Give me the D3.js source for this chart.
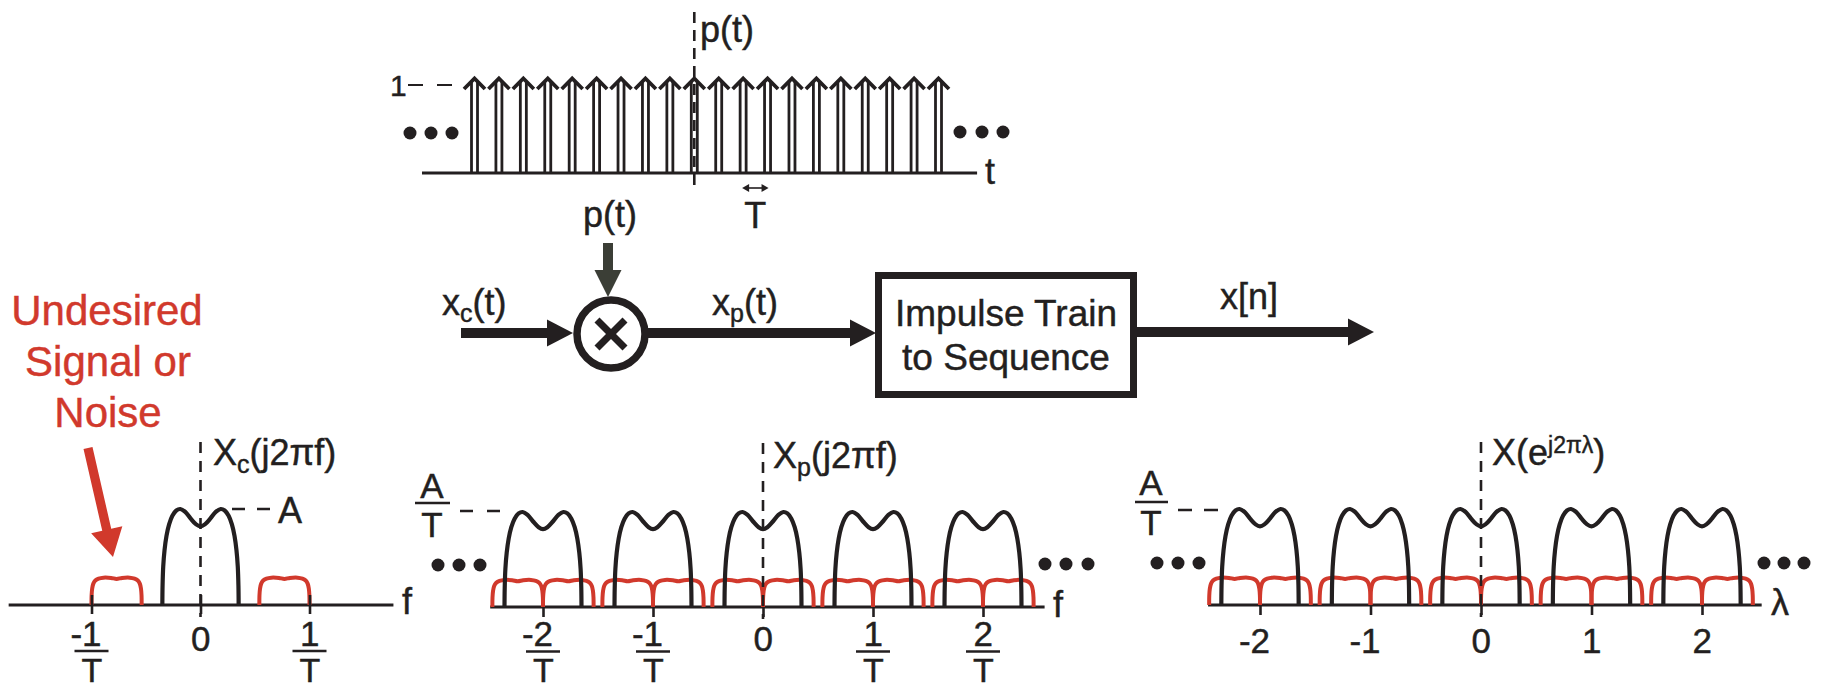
<!DOCTYPE html>
<html>
<head>
<meta charset="utf-8">
<title>Sampling, aliasing and the discrete-time spectrum</title>
<script src="https://cdn.jsdelivr.net/npm/d3@7/dist/d3.min.js"></script>
<style>
  html, body { margin: 0; padding: 0; background: #ffffff; }
  svg { display: block; }
  text { font-family: "Liberation Sans", Arial, Helvetica, sans-serif; }
</style>
</head>
<body>
<svg id="figure" width="1824" height="690"></svg>
<script>
// ---------------- data ----------------
// Impulse train p(t): sample index n and impulse weight
const impulseN      = [-9, -8, -7, -6, -5, -4, -3, -2, -1, 0, 1, 2, 3, 4, 5, 6, 7, 8, 9, 10];
const impulseWeight = [ 1,  1,  1,  1,  1,  1,  1,  1,  1, 1, 1, 1, 1, 1, 1, 1, 1, 1, 1,  1];

// Baseband spectrum |Xc(j2πf)|: f in units of 1/T, magnitude in units of A
const signalF   = [-0.350, -0.348, -0.342, -0.330, -0.312, -0.288, -0.258, -0.222, -0.185, -0.140, -0.090, -0.040, 0.000,
                    0.040,  0.090,  0.140,  0.185,  0.222,  0.258,  0.288,  0.312,  0.330,  0.342,  0.348,  0.350];
const signalMag = [0.00, 0.20, 0.40, 0.57, 0.72, 0.84, 0.93, 0.985, 1.00, 0.97, 0.90, 0.84, 0.82,
                   0.84, 0.90, 0.97, 1.00, 0.985, 0.93, 0.84, 0.72, 0.57, 0.40, 0.20, 0.00];

// Undesired signal / noise band for f > 0 (mirrored for f < 0)
const noiseF   = [0.540, 0.541, 0.546, 0.556, 0.575, 0.605, 0.650, 0.720, 0.770, 0.820, 0.890, 0.935, 0.965, 0.984, 0.994, 0.999, 1.000];
const noiseMag = [0.00, 0.10, 0.17, 0.22, 0.255, 0.275, 0.285, 0.282, 0.272, 0.282, 0.285, 0.275, 0.255, 0.22, 0.17, 0.10, 0.00];

// Spectral replicas drawn after sampling (centred on k/T, or k in λ)
const replicaK = [-2, -1, 0, 1, 2];

// Tick values and labels
const contTicks    = [-1, 0, 1];
const contTickNum  = ["-1", "0", "1"];
const contTickDen  = ["T", "", "T"];
const sampTicks    = [-2, -1, 0, 1, 2];
const sampTickNum  = ["-2", "-1", "0", "1", "2"];
const sampTickDen  = ["T", "T", "", "T", "T"];
const lambdaTicks  = [-2, -1, 0, 1, 2];
const lambdaLabels = ["-2", "-1", "0", "1", "2"];

// ---------------- styling ----------------
const INK = "#231f20";
const RED = "#d1392c";
const ARROW_GREY = "#3b3e36";
const FS = 36;

const svg = d3.select("#figure");

function txt(g, x, y, s, opts = {}) {
  const fill = opts.fill || INK;
  return g.append("text")
    .attr("x", x).attr("y", y)
    .attr("font-size", opts.size || FS)
    .attr("fill", fill)
    .attr("stroke", fill).attr("stroke-width", 0.45)
    .attr("text-anchor", opts.anchor || "start")
    .text(s);
}
function line(g, x1, y1, x2, y2, w, dash, color) {
  const l = g.append("line")
    .attr("x1", x1).attr("y1", y1).attr("x2", x2).attr("y2", y2)
    .attr("stroke", color || INK).attr("stroke-width", w);
  if (dash) l.attr("stroke-dasharray", dash);
  return l;
}
function dots(g, xs, y) {
  xs.forEach(x => g.append("circle").attr("cx", x).attr("cy", y).attr("r", 6.5).attr("fill", INK));
}

// ================= impulse train p(t) =================
const gTrain = svg.append("g");
const tScale = d3.scaleLinear().domain([-9, 10]).range([474.5, 938.5]);
const pScale = d3.scaleLinear().domain([0, 1]).range([173, 78]);

line(gTrain, tScale(-11.15), pScale(0), tScale(11.58), pScale(0), 3);
txt(gTrain, 985, 184, "t");

impulseN.forEach((n, i) => {
  const x = tScale(n), y0 = pScale(0), y1 = pScale(impulseWeight[i]);
  line(gTrain, x - 3, y0, x - 3, y1 + 4, 2.8);
  line(gTrain, x + 3, y0, x + 3, y1 + 4, 2.8);
  gTrain.append("path")
    .attr("d", `M${x - 10.5},${y1 + 11} L${x},${y1 + 0.5} L${x + 10.5},${y1 + 11}`)
    .attr("fill", "none").attr("stroke", INK).attr("stroke-width", 3.8)
    .attr("stroke-linejoin", "miter");
});
line(gTrain, tScale(0), 12, tScale(0), 186, 2.6, "11,7");
txt(gTrain, 700, 42, "p(t)");

// unit level marker
txt(gTrain, 390, 96, "1", { size: 30 });
line(gTrain, 408, 85, 452, 85, 2.2, "15,14");

dots(gTrain, [410, 431, 452], 133);
dots(gTrain, [960, 982, 1003], 132);

// sample spacing T
const tArrow = gTrain.append("g");
line(tArrow, tScale(2) + 3, 188, tScale(3) - 3, 188, 1.6);
tArrow.append("path").attr("d", `M${tScale(2) - 1},188 l7,-4 l0,8 z`).attr("fill", INK);
tArrow.append("path").attr("d", `M${tScale(3) + 1},188 l-7,-4 l0,8 z`).attr("fill", INK);
txt(gTrain, (tScale(2) + tScale(3)) / 2, 228, "T", { anchor: "middle" });

// ================= block diagram =================
const blk = svg.append("g");
const busY = 333;
const mult = { x: 611, y: 334, r: 34 };

// p(t) into the multiplier
txt(blk, 610, 227, "p(t)", { anchor: "middle" });
blk.append("rect").attr("x", 603).attr("y", 243).attr("width", 10).attr("height", 29).attr("fill", ARROW_GREY);
blk.append("path").attr("d", `M594.5,270 L608,297 L621.5,270 Z`).attr("fill", ARROW_GREY);

// x_c(t) input
function hArrow(g, x1, x2, y) {
  g.append("rect").attr("x", x1).attr("y", y - 5).attr("width", x2 - 25 - x1 + 1).attr("height", 10).attr("fill", INK);
  g.append("path").attr("d", `M${x2 - 26},${y - 13.5} L${x2},${y} L${x2 - 26},${y + 13.5} Z`).attr("fill", INK);
}
hArrow(blk, 461, 573, busY);
const xc = txt(blk, 442, 315, "x");
xc.append("tspan").attr("font-size", 25).attr("dy", 7).text("c");
xc.append("tspan").attr("dy", -7).text("(t)");

// multiplier
blk.append("circle").attr("cx", mult.x).attr("cy", mult.y).attr("r", mult.r)
  .attr("fill", "#fff").attr("stroke", INK).attr("stroke-width", 7.5);
line(blk, mult.x - 14, mult.y - 14, mult.x + 14, mult.y + 14, 7);
line(blk, mult.x + 14, mult.y - 14, mult.x - 14, mult.y + 14, 7);

// x_p(t) to the converter
hArrow(blk, mult.x + mult.r + 3, 876, busY);
const xp = txt(blk, 712, 315, "x");
xp.append("tspan").attr("font-size", 25).attr("dy", 7).text("p");
xp.append("tspan").attr("dy", -7).text("(t)");

// converter block
blk.append("rect").attr("x", 878.5).attr("y", 275.5).attr("width", 255).attr("height", 119)
  .attr("fill", "#fff").attr("stroke", INK).attr("stroke-width", 7);
txt(blk, 1006, 326, "Impulse Train", { anchor: "middle", size: 37 });
txt(blk, 1006, 370, "to Sequence", { anchor: "middle", size: 37 });

// x[n] output
hArrow(blk, 1137, 1374, busY - 1);
txt(blk, 1220, 309, "x[n]");

// ================= spectra =================
const curve = d3.curveCatmullRom.alpha(0.5);
const signalPts = d3.zip(signalF, signalMag);
const noisePos  = d3.zip(noiseF, noiseMag);
const noiseNeg  = d3.zip(noiseF.map(f => -f), noiseMag);

function spectrum(cfg) {
  const g = svg.append("g");
  const sx = cfg.x, sy = cfg.y;
  const path = d3.line().x(d => sx(d[0])).y(d => sy(d[1])).curve(curve);
  const shift = (pts, k) => pts.map(([f, m]) => [f + k, m]);

  // frequency axis
  line(g, sx(cfg.ext[0]), sy(0), sx(cfg.ext[1]), sy(0), 3);

  // noise bands (red) under the signal (black)
  cfg.noise.forEach(([pts, k]) => {
    g.append("path").attr("d", path(shift(pts, k)))
      .attr("fill", "none").attr("stroke", RED).attr("stroke-width", 4);
  });
  cfg.signal.forEach(k => {
    g.append("path").attr("d", path(shift(signalPts, k)))
      .attr("fill", "none").attr("stroke", INK).attr("stroke-width", 4.2);
  });

  // ticks
  const axis = d3.axisBottom(sx).tickValues(cfg.ticks).tickFormat("").tickSizeOuter(0).tickSizeInner(cfg.tickDown);
  const a = g.append("g").attr("transform", `translate(0,${sy(0)})`).call(axis);
  a.select(".domain").remove();
  a.selectAll(".tick line").attr("stroke", INK).attr("stroke-width", 2.6).attr("y1", -cfg.tickUp);

  // vertical (magnitude) axis, dashed
  line(g, sx(0), cfg.vTop, sx(0), sy(0) + 12, 2.6, "11,8");
  return g;
}

// fraction tick label k/T: digit centred on the tick, minus sign hanging left
function fracTick(g, x, num, den, yNum, yBar) {
  if (den) {
    const t = g.append("text")
      .attr("font-size", 35).attr("fill", INK).attr("stroke", INK).attr("stroke-width", 0.45);
    t.append("tspan").attr("x", x + 10).attr("y", yNum).attr("text-anchor", "end").text(num);
    t.append("tspan").attr("x", x + 0.5).attr("y", 682).attr("text-anchor", "middle")
      .attr("font-size", 34).text(den);
    line(g, x - 17, yBar, x + 17, yBar, 2.6);
  } else {
    txt(g, x + 10, yNum + 5, num, { anchor: "end", size: 35 });
  }
}

// ---- continuous-time spectrum Xc(j2πf) ----
const left = {
  x: d3.scaleLinear().domain([-1, 1]).range([91.5, 309.5]),
  y: d3.scaleLinear().domain([0, 1]).range([605, 509]),
  ext: [-1.76, 1.77], ticks: contTicks, tickUp: 10, tickDown: 9, vTop: 442,
  noise: [[noisePos, 0], [noiseNeg, 0]],
  signal: [0]
};
const gL = spectrum(left);
contTicks.forEach((t, i) => fracTick(gL, left.x(t), contTickNum[i], contTickDen[i], 646, 651));
txt(gL, 402, 614, "f");
const lblL = txt(gL, 213, 465, "X");
lblL.append("tspan").attr("font-size", 25).attr("dy", 8).text("c");
lblL.append("tspan").attr("dy", -8).text("(j2πf)");
line(gL, 232, left.y(1), 274, left.y(1), 2.4, "13,12");
txt(gL, 278, 523, "A");

// annotation: undesired signal or noise
const note = svg.append("g");
txt(note, 107, 325, "Undesired", { anchor: "middle", size: 42, fill: RED });
txt(note, 108, 376, "Signal or", { anchor: "middle", size: 42, fill: RED });
txt(note, 108, 427, "Noise", { anchor: "middle", size: 42, fill: RED });
{
  const x0 = 88, y0 = 448, x1 = 113, y1 = 557;
  const len = Math.hypot(x1 - x0, y1 - y0), ux = (x1 - x0) / len, uy = (y1 - y0) / len;
  const head = 28, hw = 16, sw = 4.6;
  const bx = x1 - ux * head, by = y1 - uy * head;
  note.append("path")
    .attr("d", `M${x0 - uy * sw},${y0 + ux * sw} L${bx - uy * sw},${by + ux * sw} L${bx - uy * hw},${by + ux * hw}
                L${x1},${y1} L${bx + uy * hw},${by - ux * hw} L${bx + uy * sw},${by - ux * sw} L${x0 + uy * sw},${y0 - ux * sw} Z`)
    .attr("fill", RED);
}

// ---- sampled spectrum Xp(j2πf) ----
const aliasNoise = replicaK.flatMap(m => [[noisePos, m - 1], [noiseNeg, m + 1]]);
const mid = {
  x: d3.scaleLinear().domain([-2, 2]).range([543, 983]),
  y: d3.scaleLinear().domain([0, 1]).range([607, 512]),
  ext: [-2.48, 2.56], ticks: sampTicks, tickUp: 0, tickDown: 10, vTop: 443,
  noise: aliasNoise, signal: replicaK
};
const gM = spectrum(mid);
sampTicks.forEach((t, i) => fracTick(gM, mid.x(t), sampTickNum[i], sampTickDen[i], 646, 651.5));
txt(gM, 1053, 617, "f");
const lblM = txt(gM, 773, 468, "X");
lblM.append("tspan").attr("font-size", 25).attr("dy", 8).text("p");
lblM.append("tspan").attr("dy", -8).text("(j2πf)");
txt(gM, 432, 498, "A", { anchor: "middle", size: 35 });
line(gM, 415, 503, 450, 503, 2.6);
txt(gM, 432, 537, "T", { anchor: "middle", size: 35 });
line(gM, 460, mid.y(1) - 1, 502, mid.y(1) - 1, 2.4, "13,14");
dots(gM, [438, 459, 480], 565);
dots(gM, [1045, 1066, 1088], 564);

// ---- discrete-time spectrum X(e^{j2πλ}) ----
const right = {
  x: d3.scaleLinear().domain([-2, 2]).range([1260, 1702]),
  y: d3.scaleLinear().domain([0, 1]).range([605, 509]),
  ext: [-2.47, 2.54], ticks: lambdaTicks, tickUp: 0, tickDown: 10, vTop: 442,
  noise: aliasNoise, signal: replicaK
};
const gR = spectrum(right);
lambdaTicks.forEach((t, i) => {
  txt(gR, right.x(t) + 10, 653, lambdaLabels[i], { anchor: "end", size: 35 });
});
txt(gR, 1771, 615, "λ");
const lblR = txt(gR, 1492, 465, "X(e");
lblR.append("tspan").attr("font-size", 23).attr("dy", -12).text("j2πλ");
lblR.append("tspan").attr("dy", 12).text(")");
txt(gR, 1151, 495, "A", { anchor: "middle", size: 35 });
line(gR, 1135, 502, 1168, 502, 2.6);
txt(gR, 1151, 535, "T", { anchor: "middle", size: 35 });
line(gR, 1178, right.y(1) + 1, 1219, right.y(1) + 1, 2.4, "14,12");
dots(gR, [1157, 1178, 1199], 563);
dots(gR, [1764, 1784, 1804], 563);
</script>
</body>
</html>
